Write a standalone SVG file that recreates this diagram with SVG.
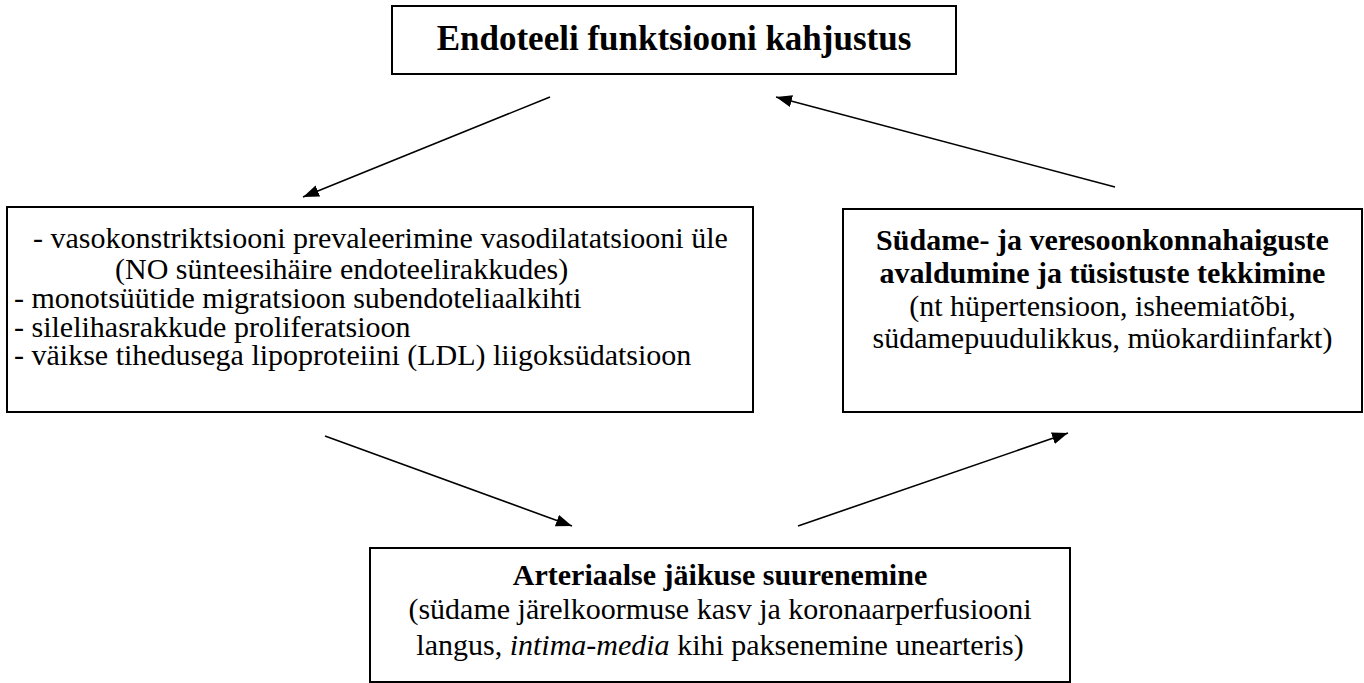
<svg xmlns="http://www.w3.org/2000/svg" width="1364" height="683" viewBox="0 0 1364 683">
<style>
.box{fill:#fff;stroke:#000;stroke-width:2}
.t{font-family:"Liberation Serif","Times New Roman",serif;font-size:30px;fill:#000}
.b{font-weight:bold}
.c{text-anchor:middle}
.conn line{stroke:#000;stroke-width:1.6;marker-end:url(#ah)}
</style>
<defs>
<marker id="ah" markerUnits="userSpaceOnUse" markerWidth="18" markerHeight="14" refX="16" refY="6" orient="auto">
<path d="M0,0 L16,6 L0,12 Z" fill="#000"/>
</marker>
</defs>
<rect width="1364" height="683" fill="#fff"/>
<g id="node-top">
<rect class="box" x="392" y="6" width="564" height="68"/>
<text class="t b c" x="674" y="50" style="font-size:35px">Endoteeli funktsiooni kahjustus</text>
</g>
<g id="node-left">
<rect class="box" x="7" y="207" width="746" height="205"/>
<text class="t" x="33" y="248">- vasokonstriktsiooni prevaleerimine vasodilatatsiooni üle</text>
<text class="t" x="115" y="279">(NO sünteesihäire endoteelirakkudes)</text>
<text class="t" x="14" y="308">- monotsüütide migratsioon subendoteliaalkihti</text>
<text class="t" x="14" y="337">- silelihasrakkude proliferatsioon</text>
<text class="t" x="14" y="365">- väikse tihedusega lipoproteiini (LDL) liigoksüdatsioon</text>
</g>
<g id="node-right">
<rect class="box" x="843" y="209" width="519" height="203"/>
<text class="t b c" x="1102.5" y="250">Südame- ja veresoonkonnahaiguste</text>
<text class="t b c" x="1102.5" y="283">avaldumine ja tüsistuste tekkimine</text>
<text class="t c" x="1102.5" y="316">(nt hüpertensioon, isheemiatõbi,</text>
<text class="t c" x="1102.5" y="348">südamepuudulikkus, müokardiinfarkt)</text>
</g>
<g id="node-bottom">
<rect class="box" x="370" y="548" width="700" height="134"/>
<text class="t b c" x="720" y="585">Arteriaalse jäikuse suurenemine</text>
<text class="t c" x="720" y="619">(südame järelkoormuse kasv ja koronaarperfusiooni</text>
<text class="t c" x="720" y="655">langus, <tspan font-style="italic">intima-media</tspan> kihi paksenemine unearteris)</text>
</g>
<g id="connectors" class="conn">
<line x1="550" y1="97" x2="303" y2="197"/>
<line x1="1115" y1="187" x2="776" y2="97"/>
<line x1="325" y1="436" x2="572" y2="526"/>
<line x1="798" y1="526" x2="1068" y2="433"/>
</g>
</svg>
